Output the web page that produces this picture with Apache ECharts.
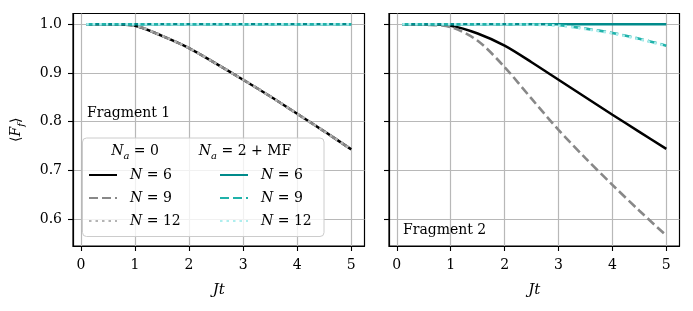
<!DOCTYPE html>
<html>
<head>
<meta charset="utf-8">
<script src="https://cdn.jsdelivr.net/npm/echarts@6/dist/echarts.min.js"></script>
<style>html,body{margin:0;padding:0;background:#fff;}#c{width:693px;height:311px;}</style>
</head>
<body>
<div id="c"></div>
<script>
// ---- data ----
const t = [0.1, 0.5, 1.0, 1.5, 2.0, 2.5, 3.0, 3.5, 4.0, 4.5, 5.0];
// Fragment 1
const f1_na0_N6  = [1.000, 1.000, 0.997, 0.976, 0.951, 0.919, 0.886, 0.852, 0.816, 0.780, 0.743];
const f1_na0_N9  = [1.000, 1.000, 0.997, 0.976, 0.951, 0.919, 0.886, 0.852, 0.816, 0.780, 0.743];
const f1_na0_N12 = [1.000, 1.000, 0.997, 0.976, 0.951, 0.919, 0.886, 0.852, 0.816, 0.780, 0.743];
const f1_mf_N6   = [1.000, 1.000, 1.000, 1.000, 1.000, 1.000, 1.000, 1.000, 1.000, 1.000, 1.000];
const f1_mf_N9   = [1.000, 1.000, 1.000, 1.000, 1.000, 1.000, 1.000, 1.000, 1.000, 1.000, 1.000];
const f1_mf_N12  = [1.000, 1.000, 1.000, 1.000, 1.000, 1.000, 1.000, 1.000, 1.000, 1.000, 1.000];
// Fragment 2
const f2_na0_N6  = [1.000, 1.000, 0.997, 0.981, 0.956, 0.922, 0.886, 0.850, 0.814, 0.779, 0.744];
const f2_na0_N9  = [1.000, 0.999, 0.994, 0.966, 0.912, 0.847, 0.783, 0.725, 0.670, 0.617, 0.566];
const f2_mf_N6   = [1.000, 1.000, 1.000, 1.000, 1.000, 1.000, 1.000, 1.000, 1.000, 1.000, 1.000];
const f2_mf_N9   = [1.000, 1.000, 1.000, 1.000, 1.000, 1.000, 0.998, 0.991, 0.982, 0.970, 0.956];
const f2_mf_N12  = [1.000, 1.000, 1.000, 1.000, 1.000, 0.999, 0.997, 0.990, 0.981, 0.969, 0.955];

const xTicks = [0, 1, 2, 3, 4, 5];
const xTickLabels = ['0', '1', '2', '3', '4', '5'];
const yTicks = [0.6, 0.7, 0.8, 0.9, 1.0];
const yTickLabels = ['0.6', '0.7', '0.8', '0.9', '1.0'];

const seriesNames = ['a6', 'a9', 'a12', 'b6', 'b9', 'b12'];
const legendLabels = ['{i|N} = 6', '{i|N} = 9', '{i|N} = 12', '{i|N} = 6', '{i|N} = 9', '{i|N} = 12'];
const panelLabels = ['Fragment 1', 'Fragment 2'];
const headerLabels = ['{i|N}{s|a} = 0', '{i|N}{s|a} = 2 + MF'];

// ---- styles ----
const FONT = 'DejaVu Serif';
const FS = 14;
const styles = {
  a6:  {color: '#000000', type: 'solid', width: 2.5},
  a9:  {color: '#888888', type: [9, 4], width: 2.6},
  a12: {color: '#b4b4b4', type: [2.5, 4], width: 2.6},
  b6:  {color: '#008b8b', type: 'solid', width: 2.5},
  b9:  {color: '#20b2aa', type: [9, 4], width: 2.6},
  b12: {color: '#aeeeee', type: [2.5, 4], width: 2.6}
};

function zip(xs, ys) { return xs.map((x, i) => [x, ys[i]]); }
function mk(name, ys, idx) {
  const s = styles[name];
  return {
    name: name, type: 'line', xAxisIndex: idx, yAxisIndex: idx,
    data: zip(t, ys), showSymbol: false, symbol: 'none',
    smooth: 0.3,
    lineStyle: {color: s.color, type: s.type, width: s.width},
    itemStyle: {color: s.color},
    emphasis: {disabled: true}, animation: false
  };
}

const richText = {
  i: {fontStyle: 'italic', fontFamily: FONT, fontSize: FS, color: '#000'},
  s: {fontStyle: 'italic', fontFamily: FONT, fontSize: 10, color: '#000', verticalAlign: 'bottom', lineHeight: 10, padding: [0, 0, -3, 0]}
};

const grids = [
  {left: 73, top: 13.5, width: 291.5, height: 232.5},
  {left: 389, top: 13.5, width: 290.5, height: 232.5}
];

function xAxis(idx) {
  return {
    type: 'value', gridIndex: idx, min: -0.145, max: 5.245,
    name: 'Jt', nameLocation: 'middle', nameGap: 37,
    nameTextStyle: {fontFamily: FONT, fontStyle: 'italic', fontSize: 15, color: '#000'},
    axisLine: {show: true, onZero: false, lineStyle: {color: '#000', width: 1.2}},
    axisTick: {show: true, customValues: xTicks, length: 5, lineStyle: {color: '#000', width: 1.1}},
    axisLabel: {customValues: xTicks, margin: 12, fontFamily: FONT, fontSize: FS, color: '#000',
      formatter: v => xTickLabels[xTicks.indexOf(Math.round(v))]},
    splitLine: {show: true, lineStyle: {color: '#b8b8b8', width: 1.2}}
  };
}
function yAxis(idx) {
  return {
    type: 'value', gridIndex: idx, min: 0.5445, max: 1.022,
    name: idx === 0 ? '⟨{i|F}{s|f}⟩' : '', nameLocation: 'middle', nameGap: 50, nameRotate: 90,
    nameTextStyle: {fontFamily: FONT, fontSize: FS, color: '#000', rich: richText},
    axisLine: {show: true, onZero: false, lineStyle: {color: '#000', width: 1.2}},
    axisTick: {show: true, customValues: yTicks, length: 5, lineStyle: {color: '#000', width: 1.1}},
    axisLabel: {show: idx === 0, customValues: yTicks, margin: 11, fontFamily: FONT, fontSize: FS, color: '#000',
      formatter: v => yTickLabels[yTicks.findIndex(y => Math.abs(y - v) < 1e-6)]},
    splitLine: {show: true, lineStyle: {color: '#b8b8b8', width: 1.2}}
  };
}

const series = [
  mk('a6', f1_na0_N6, 0), mk('a9', f1_na0_N9, 0), mk('a12', f1_na0_N12, 0),
  mk('b6', f1_mf_N6, 0), mk('b9', f1_mf_N9, 0), mk('b12', f1_mf_N12, 0),
  mk('a6', f2_na0_N6, 1), mk('a9', f2_na0_N9, 1),
  mk('b6', f2_mf_N6, 1), mk('b9', f2_mf_N9, 1), mk('b12', f2_mf_N12, 1)
];

function legend(names, left) {
  return {
    data: names, left: left, top: 167, orient: 'vertical', padding: 0,
    itemWidth: 28, itemHeight: 12, itemGap: 7, z: 20,
    selectedMode: false,
    itemStyle: {color: 'rgba(0,0,0,0)', borderWidth: 0, opacity: 0},
    formatter: n => legendLabels[seriesNames.indexOf(n)],
    textStyle: {fontFamily: FONT, fontSize: FS, color: '#000', lineHeight: 16, padding: [0, 0, 0, 8], rich: richText}
  };
}

const chart = echarts.init(document.getElementById('c'), null, {renderer: 'canvas'});
chart.setOption({
  animation: false,
  backgroundColor: '#fff',
  grid: grids.map(g => Object.assign({show: true, borderColor: '#000', borderWidth: 1.2, backgroundColor: 'transparent'}, g)),
  xAxis: [xAxis(0), xAxis(1)],
  yAxis: [yAxis(0), yAxis(1)],
  series: series,
  legend: [legend(seriesNames.slice(0, 3), 88), legend(seriesNames.slice(3), 219)],
  graphic: [
    {type: 'rect', z: 15, shape: {x: 82.5, y: 138, width: 241.5, height: 98.5, r: 4},
      style: {fill: 'rgba(255,255,255,0.8)', stroke: '#cccccc', lineWidth: 1}},
    {type: 'text', z: 20, style: {x: 135, y: 151, text: headerLabels[0], align: 'center', verticalAlign: 'middle',
      fontFamily: FONT, fontSize: FS, fill: '#000', rich: richText}},
    {type: 'text', z: 20, style: {x: 245, y: 151, text: headerLabels[1], align: 'center', verticalAlign: 'middle',
      fontFamily: FONT, fontSize: FS, fill: '#000', rich: richText}},
    {type: 'text', z: 20, style: {x: 87, y: 113, text: panelLabels[0], align: 'left', verticalAlign: 'middle',
      fontFamily: FONT, fontSize: FS, fill: '#000'}},
    {type: 'text', z: 20, style: {x: 403, y: 230, text: panelLabels[1], align: 'left', verticalAlign: 'middle',
      fontFamily: FONT, fontSize: FS, fill: '#000'}}
  ]
});
</script>
</body>
</html>
